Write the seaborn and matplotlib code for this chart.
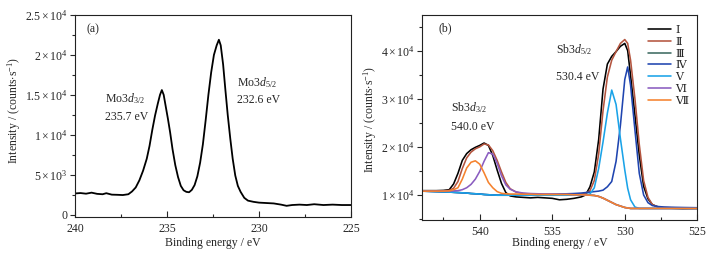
import numpy as np
import pandas as pd
import matplotlib
matplotlib.use("Agg")
import matplotlib.pyplot as plt
from matplotlib.ticker import FixedLocator, FixedFormatter, MultipleLocator
import seaborn as sns

# ---------------- data: panel (a) Mo 3d ----------------
energy_a = [240.0, 239.7, 239.4, 239.1, 238.8, 238.5, 238.3, 238.0, 237.7, 237.4, 237.1,
            236.9, 236.7, 236.5, 236.3, 236.1, 235.95, 235.8, 235.65, 235.5, 235.38, 235.28,
            235.18, 235.05, 234.95, 234.83, 234.7, 234.55, 234.4, 234.25, 234.1, 233.95,
            233.8, 233.65, 233.5, 233.35, 233.2, 233.05, 232.9, 232.75, 232.6, 232.45, 232.3,
            232.18, 232.08, 231.95, 231.83, 231.7, 231.56, 231.43, 231.29, 231.15, 231.0,
            230.8, 230.6, 230.3, 230.0, 229.6, 229.2, 228.8, 228.5, 228.2, 227.8, 227.4,
            227.0, 226.5, 226.0, 225.5, 225.0]
intensity_a = [2650, 2700, 2620, 2750, 2600, 2550, 2680, 2500, 2480, 2450, 2550,
               2900, 3400, 4300, 5500, 7000, 8600, 10600, 12400, 13900, 15000, 15600,
               15000, 13300, 12000, 10300, 8200, 6200, 4700, 3600, 3050, 2850,
               2800, 3100, 3700, 4800, 6500, 8800, 11800, 15000, 17800, 20000, 21200,
               21900, 21200, 18800, 15700, 12500, 9500, 7000, 4900, 3600, 2850,
               2100, 1750, 1600, 1500, 1450, 1400, 1250, 1100, 1200, 1250, 1200,
               1300, 1200, 1250, 1200, 1200]

# ---------------- data: panel (b) Sb 3d ----------------
energy_b = [544.0, 543.0, 542.5, 542.1, 541.8, 541.5, 541.2, 540.9, 540.6, 540.3, 540.0,
            539.7, 539.4, 539.1, 538.8, 538.5, 538.2, 537.9, 537.5, 537.0, 536.5, 536.0,
            535.5, 535.0, 534.5, 534.0, 533.5, 533.0, 532.7, 532.4, 532.1, 531.8, 531.5,
            531.2, 530.9, 530.6, 530.3, 530.0, 529.8, 529.6, 529.3, 529.0, 528.7, 528.4,
            528.1, 527.7, 527.3, 526.8, 526.0, 525.0]
curve_I = [10900, 10900, 10950, 11100, 12300, 14500, 17200, 18600, 19400, 19900, 20300,
           20800, 20300, 18200, 15200, 12400, 10500, 9800, 9600, 9500, 9400, 9500,
           9400, 9300, 9000, 9100, 9300, 9600, 10000, 11700, 14800, 21500, 32000,
           37200, 38800, 39800, 40900, 41500, 40000, 34800, 26600, 18300, 11800, 9200,
           8000, 7500, 7300, 7250, 7150, 7200]
curve_II = [10800, 10800, 10850, 10950, 11400, 12800, 15500, 17700, 18900, 19600, 20000,
            20600, 20400, 19200, 17200, 14800, 12600, 11300, 10600, 10300, 10200, 10200,
            10150, 10150, 10100, 10100, 10150, 10200, 10300, 10900, 13000, 18500, 27500,
            34500, 38000, 39800, 41500, 42300, 41500, 38000, 30000, 20500, 13000, 9500,
            8000, 7500, 7400, 7350, 7300, 7300]
curve_III = [10800, 10700, 10650, 10600, 10550, 10500, 10450, 10400, 10300, 10250, 10200,
             10100, 10050, 10000, 9950, 9950, 9950, 9950, 9950, 9950, 9950, 9950,
             9950, 9950, 9950, 9950, 10050, 10050, 10000, 9950, 9900, 9700, 9350,
             8900, 8450, 8000, 7700, 7400, 7300, 7200, 7200, 7200, 7200, 7200,
             7200, 7200, 7200, 7200, 7200, 7200]
curve_IV = [10800, 10700, 10650, 10600, 10550, 10500, 10450, 10400, 10300, 10250, 10200,
            10100, 10050, 10000, 9950, 9950, 9950, 9950, 9950, 9950, 9950, 10000,
            10050, 10100, 10200, 10250, 10300, 10400, 10500, 10600, 10700, 10800, 11000,
            11700, 12800, 17000, 24500, 34000, 36600, 32800, 23500, 14500, 10000, 8400,
            7800, 7600, 7500, 7450, 7400, 7350]
curve_V = [10800, 10700, 10650, 10600, 10550, 10500, 10450, 10400, 10300, 10250, 10200,
           10100, 10050, 10000, 9950, 9950, 9950, 9950, 9950, 9950, 9950, 9950,
           9950, 9950, 9950, 9950, 10000, 10000, 10050, 10200, 11500, 15500, 21000,
           27000, 31800, 28800, 21700, 15200, 11400, 9000, 7500, 7200, 7200, 7200,
           7200, 7200, 7200, 7200, 7200, 7200]
curve_VI = [10800, 10800, 10800, 10800, 10850, 10900, 11100, 11500, 12200, 13300, 14900,
            17000, 18800, 18500, 16600, 14000, 12100, 11200, 10650, 10400, 10300, 10250,
            10200, 10200, 10150, 10150, 10050, 10050, 10000, 9950, 9900, 9700, 9350,
            8900, 8450, 8000, 7700, 7400, 7300, 7200, 7200, 7200, 7200, 7200,
            7200, 7200, 7200, 7200, 7200, 7200]
curve_VII = [10800, 10800, 10800, 10850, 11100, 11500, 13300, 15600, 16800, 17100, 16400,
             14600, 12600, 11500, 10700, 10350, 10250, 10200, 10200, 10150, 10150, 10100,
             10100, 10100, 10100, 10100, 10050, 10050, 10000, 9950, 9900, 9700, 9350,
             8900, 8450, 8000, 7700, 7400, 7300, 7200, 7200, 7200, 7200, 7200,
             7200, 7200, 7200, 7200, 7200, 7200]

series_names = ["Ⅰ", "Ⅱ", "Ⅲ", "Ⅳ", "Ⅴ", "Ⅵ", "Ⅶ"]
series_values = [curve_I, curve_II, curve_III, curve_IV, curve_V, curve_VI, curve_VII]
series_colors = ["#000000", "#b4553f", "#3d6b62", "#1f45b0", "#1aa3e8", "#8a5cc0", "#f5822e"]

# tick labels
xa_ticks = [240, 235, 230, 225]
ya_ticks = [0, 5000, 10000, 15000, 20000, 25000]
ya_labels = ["0", r"$5\times10^{3}$", r"$1\times10^{4}$", r"$1.5\times10^{4}$",
             r"$2\times10^{4}$", r"$2.5\times10^{4}$"]
xb_ticks = [540, 535, 530, 525]
yb_ticks = [10000, 20000, 30000, 40000]
yb_labels = [r"$1\times10^{4}$", r"$2\times10^{4}$", r"$3\times10^{4}$", r"$4\times10^{4}$"]

# ---------------- style ----------------
sns.set_style("ticks")
plt.rcParams["font.family"] = ["Liberation Serif", "DejaVu Serif"]
plt.rcParams["mathtext.fontset"] = "custom"
plt.rcParams["mathtext.rm"] = "Liberation Serif"
plt.rcParams["mathtext.it"] = "Liberation Serif:italic"
plt.rcParams["mathtext.bf"] = "Liberation Serif:bold"
FS = 8.5

fig = plt.figure(figsize=(7.23, 2.57), dpi=100)
fig.patch.set_facecolor("white")
W, H = 723, 257

def rect(l, r, t, b):
    return [l / W, 1 - b / H, (r - l) / W, (b - t) / H]

ax_a = fig.add_axes(rect(75, 351, 15, 217))
ax_b = fig.add_axes(rect(421.7, 697.3, 15, 220))

# ---- panel a ----
sns.lineplot(x=energy_a, y=intensity_a, ax=ax_a, color="black", lw=1.3,
             sort=False, estimator=None)
ax_a.set_xlim(240, 225)
ax_a.set_ylim(-300, 25000)
ax_a.xaxis.set_major_locator(FixedLocator(xa_ticks))
ax_a.xaxis.set_minor_locator(MultipleLocator(2.5))
ax_a.yaxis.set_major_locator(FixedLocator(ya_ticks))
ax_a.yaxis.set_major_formatter(FixedFormatter(ya_labels))
ax_a.yaxis.set_minor_locator(MultipleLocator(2500))

ax_a.text(239.35, 23240, "(a)", fontsize=FS, ha="left", va="center")
ax_a.text(238.37, 14560, r"Mo3$d_{3/2}$", fontsize=FS, ha="left", va="center")
ax_a.text(238.37, 12200, "235.7 eV", fontsize=FS, ha="left", va="center")
ax_a.text(231.18, 16540, r"Mo3$d_{5/2}$", fontsize=FS, ha="left", va="center")
ax_a.text(231.18, 14310, "232.6 eV", fontsize=FS, ha="left", va="center")

# ---- panel b ----
rows = []
for name, vals in zip(series_names, series_values):
    for e, v in zip(energy_b, vals):
        rows.append({"E": e, "I": v, "curve": name})
df_b = pd.DataFrame(rows)
sns.lineplot(data=df_b, x="E", y="I", hue="curve", hue_order=series_names,
             palette=dict(zip(series_names, series_colors)), ax=ax_b, lw=1.15,
             sort=False, estimator=None, legend=False)
ax_b.set_xlim(544, 525)
ax_b.set_ylim(4800, 47400)
ax_b.xaxis.set_major_locator(FixedLocator(xb_ticks))
ax_b.xaxis.set_minor_locator(MultipleLocator(2.5))
ax_b.yaxis.set_major_locator(FixedLocator(yb_ticks))
ax_b.yaxis.set_major_formatter(FixedFormatter(yb_labels))
ax_b.yaxis.set_minor_locator(MultipleLocator(5000))

ax_b.text(542.86, 44700, "(b)", fontsize=FS, ha="left", va="center")
ax_b.text(534.75, 40150, r"Sb3$d_{5/2}$", fontsize=FS, ha="left", va="center")
ax_b.text(534.75, 34530, "530.4 eV", fontsize=FS, ha="left", va="center")
ax_b.text(541.97, 28090, r"Sb3$d_{3/2}$", fontsize=FS, ha="left", va="center")
ax_b.text(541.97, 24140, "540.0 eV", fontsize=FS, ha="left", va="center")

handles = ax_b.get_lines()[:len(series_names)]
leg = ax_b.legend(handles, series_names, loc="upper left", bbox_to_anchor=(0.821, 0.95),
                  frameon=False, fontsize=8, handlelength=2.1, handletextpad=0.35,
                  labelspacing=0.18, borderpad=0, borderaxespad=0)

# ---- common axis styling ----
for ax in (ax_a, ax_b):
    ax.set_facecolor("white")
    for s in ax.spines.values():
        s.set_visible(True)
        s.set_linewidth(0.8)
        s.set_color("#222222")
    ax.tick_params(axis="x", which="major", direction="in", length=4, width=0.8,
                   labelsize=FS, pad=4)
    ax.tick_params(axis="x", which="minor", direction="in", length=2.3, width=0.8)
    ax.tick_params(axis="y", which="major", direction="out", length=3.3, width=0.8,
                   labelsize=FS, pad=2)
    ax.tick_params(axis="y", which="minor", direction="out", length=2, width=0.8)
    ax.set_xlabel("Binding energy / eV", fontsize=FS)
    ax.set_ylabel(r"Intensity / (counts$\cdot$s$^{-1}$)", fontsize=FS)

ax_a.xaxis.set_label_coords(0.5, -0.10)
ax_b.xaxis.set_label_coords(0.5, -0.083)
ax_a.yaxis.set_label_coords(-0.19, 0.53)
ax_b.yaxis.set_label_coords(-0.155, 0.49)

fig.savefig("out.png", dpi=100)
